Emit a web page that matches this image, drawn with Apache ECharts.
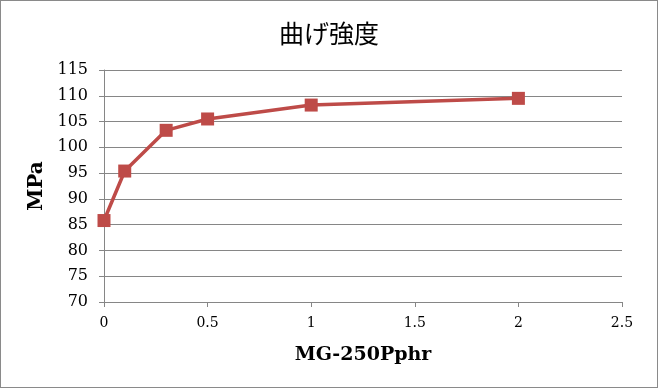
<!DOCTYPE html>
<html><head><meta charset="utf-8">
<script src="https://cdn.jsdelivr.net/npm/echarts@6/dist/echarts.min.js"></script>
<style>html,body{margin:0;padding:0;background:#fff}#c{position:absolute;left:0;top:0;width:656px;height:386px;border:1px solid #8a8a8a;}</style>
</head><body><div id="c"></div>
<script>
const title = '曲げ強度';
const xName = 'MG-250Pphr';
const yName = 'MPa';
const xValues = [0, 0.1, 0.3, 0.5, 1, 2];
const yValues = [85.8, 95.4, 103.3, 105.5, 108.2, 109.5];
const chart = echarts.init(document.getElementById('c'));
const serif = '"DejaVu Serif","Liberation Serif",serif';
chart.setOption({
  animation:false,
  title:{text:title,left:'center',top:15,textStyle:{fontFamily:'"Noto Sans CJK JP",sans-serif',fontWeight:'normal',fontSize:25,color:'#000'}},
  grid:{left:103,right:35,top:69,bottom:85},
  xAxis:{type:'value',min:0,max:2.5,interval:0.5,name:xName,nameLocation:'middle',nameGap:44,
    nameTextStyle:{fontFamily:serif,fontWeight:'bold',fontSize:19,color:'#000'},
    axisLine:{lineStyle:{color:'#868686'}},axisTick:{show:true,length:5,lineStyle:{color:'#868686'}},
    axisLabel:{fontFamily:serif,fontSize:14,color:'#000',margin:14},splitLine:{show:false}},
  yAxis:{type:'value',min:70,max:115,interval:5,name:yName,nameLocation:'middle',nameGap:54,
    nameTextStyle:{fontFamily:serif,fontWeight:'bold',fontSize:20,color:'#000'},
    axisLine:{show:true,lineStyle:{color:'#868686'}},axisTick:{show:true,length:5,lineStyle:{color:'#868686'}},
    axisLabel:{fontFamily:serif,fontSize:16,color:'#000',margin:16},
    splitLine:{lineStyle:{color:'#868686'}}},
  series:[{type:'line',data:xValues.map((x,i)=>[x,yValues[i]]),symbol:'rect',symbolSize:13,
    lineStyle:{color:'#BE4B48',width:3.5},itemStyle:{color:'#BE4B48'}}]
});
</script></body></html>
